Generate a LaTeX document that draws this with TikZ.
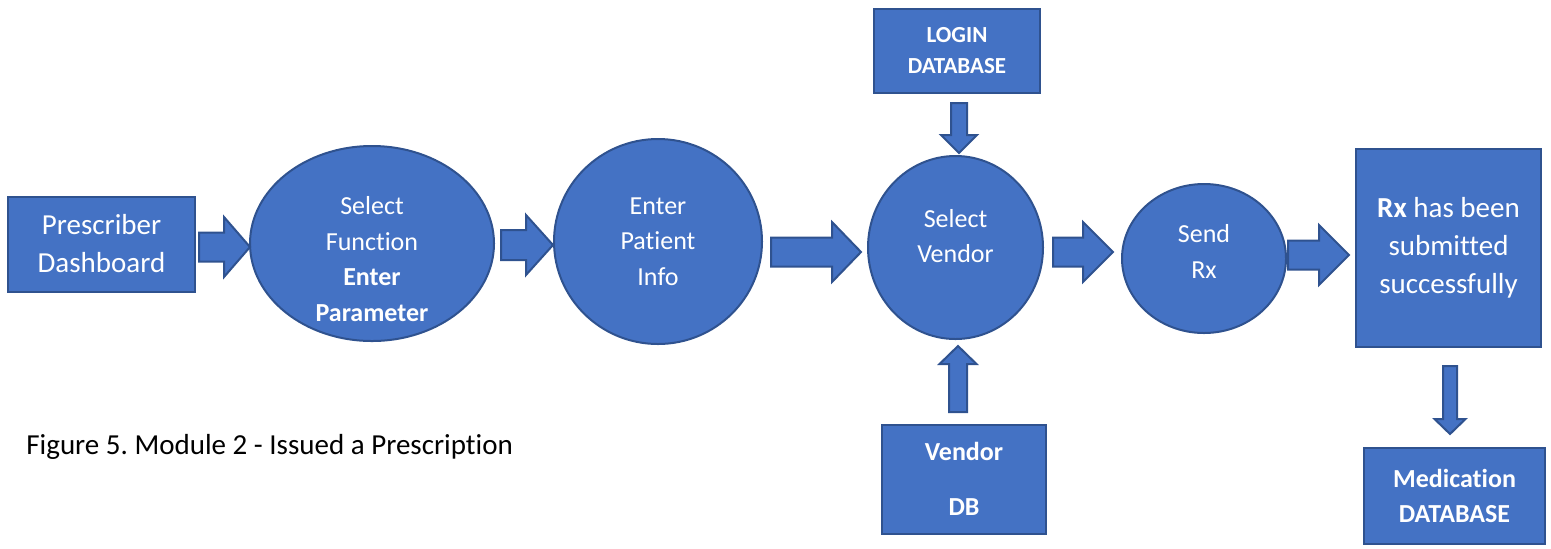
\documentclass[tikz,border=0pt]{standalone}
\usepackage{fontspec}
\setmainfont{Carlito}[Ligatures={NoCommon}]
\frenchspacing
\usetikzlibrary{shapes.geometric,calc}
\definecolor{boxfill}{HTML}{4472C4}
\definecolor{boxline}{HTML}{2F528F}
\tikzset{
  shapebox/.style={draw=boxline, fill=boxfill, line width=1pt, text=white, align=center, inner sep=0pt},
  rectbox/.style={shapebox, rectangle},
  ellbox/.style={shapebox, ellipse},
  bigtext/.style={font=\fontsize{14.5}{19}\selectfont},
  midtext/.style={font=\fontsize{13}{17.75}\selectfont},
  smalltext/.style={font=\fontsize{11.5}{15.5}\selectfont},
  intext/.style={text=white, align=center, inner sep=0pt},
  blockarrow/.style={draw=boxline, fill=boxfill, line width=1pt, line join=miter},
}
% horizontal block arrow: tail, tip, shaft half-width, head half-width, head length (px)
\newcommand{\harrow}[5]{\draw[blockarrow] let \p1=(#1), \p2=(#2), \p3=($(#2)!#5*0.5pt!(#1)$) in
  ({\x1},{\y1+#3*0.5pt}) -- ({\x3},{\y1+#3*0.5pt}) -- ({\x3},{\y1+#4*0.5pt}) -- ({\x2},{\y1})
  -- ({\x3},{\y1-#4*0.5pt}) -- ({\x3},{\y1-#3*0.5pt}) -- ({\x1},{\y1-#3*0.5pt}) -- cycle;}
% vertical block arrow
\newcommand{\varrow}[5]{\draw[blockarrow] let \p1=(#1), \p2=(#2), \p3=($(#2)!#5*0.5pt!(#1)$) in
  ({\x1-#3*0.5pt},{\y1}) -- ({\x1-#3*0.5pt},{\y3}) -- ({\x1-#4*0.5pt},{\y3}) -- ({\x1},{\y2})
  -- ({\x1+#4*0.5pt},{\y3}) -- ({\x1+#3*0.5pt},{\y3}) -- ({\x1+#3*0.5pt},{\y1}) -- cycle;}
\begin{document}
\begin{tikzpicture}[x=0.5pt,y=-0.5pt]
\useasboundingbox (0,0) rectangle (1551,548);

% nodes
\node[rectbox, bigtext, minimum width=93.5pt, minimum height=47.5pt] (pd) at (101.5,244) {Prescriber\\Dashboard};
\node[ellbox, minimum width=122pt, minimum height=97.5pt,
  label={[intext, midtext, yshift=-7.75pt]center:{Select\\Function\\\textbf{Enter}\\\textbf{Parameter}}}] (sf) at (372,243.5) {};
\node[ellbox, minimum width=104pt, minimum height=102.5pt,
  label={[intext, midtext, yshift=0pt]center:{Enter\\Patient\\Info}}] (ep) at (658,241.5) {};
\node[ellbox, minimum width=87.5pt, minimum height=91.5pt,
  label={[intext, midtext, yshift=5.75pt]center:{Select\\Vendor}}] (sv) at (955.5,247.5) {};
\node[ellbox, minimum width=82pt, minimum height=74.5pt,
  label={[intext, midtext, yshift=3.5pt]center:{Send\\Rx}}] (sr) at (1204,258.5) {};
\node[rectbox, bigtext, minimum width=92.5pt, minimum height=99pt] (rx) at (1448.5,248) {\textbf{Rx} has been\\submitted\\successfully};
\node[rectbox, smalltext, minimum width=83pt, minimum height=42pt] (login) at (957,51) {\textbf{LOGIN}\\\textbf{DATABASE}};
\node[rectbox, midtext, minimum width=82pt, minimum height=54.5pt] (vdb) at (964,479) {\textbf{Vendor}\\[9.75pt]\textbf{DB}};
\node[rectbox, midtext, minimum width=90.5pt, minimum height=48pt] (med) at (1454.5,496) {\textbf{Medication}\\\textbf{DATABASE}};
\node[anchor=west, bigtext, inner sep=0pt] (cap) at (26,447) {Figure 5. Module 2 - Issued a Prescription};

% connector end points
\coordinate (a1s) at (199,247);  \coordinate (a1t) at (250,247);
\coordinate (a2s) at (501,245);  \coordinate (a2t) at (553,245);
\coordinate (a3s) at (771,252);  \coordinate (a3t) at (861,252);
\coordinate (a4s) at (1053,252); \coordinate (a4t) at (1113,252);
\coordinate (a5s) at (1288,255); \coordinate (a5t) at (1349,255);
\coordinate (l1s) at (959,103);  \coordinate (l1t) at (959,153);
\coordinate (v1s) at (958,412);  \coordinate (v1t) at (958,346);
\coordinate (m1s) at (1450,366); \coordinate (m1t) at (1450,434);

% block arrows
\harrow{a1s}{a1t}{14.5}{30}{26}
\harrow{a2s}{a2t}{15}{30}{27}
\harrow{a3s}{a3t}{14.5}{30}{29}
\harrow{a4s}{a4t}{14.5}{30}{30}
\harrow{a5s}{a5t}{14.5}{30}{30}
\varrow{l1s}{l1t}{8}{18}{18}
\varrow{v1s}{v1t}{9}{18.5}{18}
\varrow{m1s}{m1t}{7}{15.5}{15}
\end{tikzpicture}
\end{document}
